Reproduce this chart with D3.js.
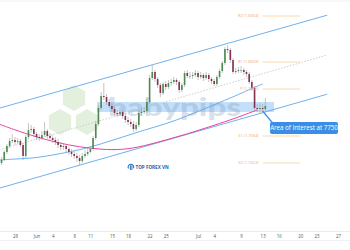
<!DOCTYPE html>
<html>
<head>
<meta charset="utf-8">
<script src="https://cdn.jsdelivr.net/npm/d3@7"></script>
<style>
  html, body { margin: 0; padding: 0; background: #fff; }
  svg { display: block; font-family: "Open Sans", "DejaVu Sans", sans-serif; }
</style>
</head>
<body>
<div class="chart"></div>
<script>
// candles, 12h bars from 25 May 12:00 -> [open, high, low, close]
const candleStart = "2018-05-25 12:00";
const candles = [
  [1.7422,1.7458,1.7410,1.7440],[1.7440,1.7500,1.7434,1.7488],[1.7488,1.7536,1.7476,1.7524],[1.7524,1.7572,1.7512,1.7554],
  [1.7554,1.7596,1.7542,1.7560],[1.7560,1.7578,1.7530,1.7548],[1.7548,1.7572,1.7536,1.7554],[1.7554,1.7566,1.7518,1.7530],
  [1.7530,1.7542,1.7440,1.7464],[1.7464,1.7590,1.7452,1.7578],[1.7578,1.7662,1.7566,1.7620],[1.7620,1.7650,1.7602,1.7626],
  [1.7626,1.7638,1.7578,1.7596],[1.7596,1.7608,1.7560,1.7578],[1.7578,1.7596,1.7554,1.7572],[1.7572,1.7614,1.7560,1.7590],
  [1.7590,1.7668,1.7578,1.7614],[1.7614,1.7626,1.7566,1.7584],[1.7584,1.7602,1.7554,1.7572],[1.7572,1.7590,1.7542,1.7560],
  [1.7560,1.7578,1.7530,1.7548],[1.7548,1.7566,1.7512,1.7530],[1.7530,1.7548,1.7500,1.7518],[1.7518,1.7542,1.7500,1.7524],
  [1.7524,1.7536,1.7488,1.7506],[1.7506,1.7518,1.7470,1.7488],[1.7488,1.7506,1.7458,1.7476],[1.7476,1.7494,1.7446,1.7464],
  [1.7464,1.7482,1.7428,1.7452],[1.7452,1.7470,1.7410,1.7434],[1.7434,1.7482,1.7422,1.7464],[1.7464,1.7500,1.7452,1.7476],
  [1.7476,1.7512,1.7464,1.7488],[1.7488,1.7524,1.7482,1.7506],[1.7506,1.7584,1.7494,1.7572],[1.7572,1.7674,1.7560,1.7656],
  [1.7656,1.7770,1.7644,1.7752],[1.7752,1.7848,1.7740,1.7824],[1.7824,1.7902,1.7800,1.7818],[1.7818,1.7836,1.7770,1.7788],
  [1.7788,1.7806,1.7752,1.7764],[1.7764,1.7782,1.7728,1.7746],[1.7746,1.7764,1.7704,1.7722],[1.7722,1.7740,1.7698,1.7716],
  [1.7716,1.7752,1.7704,1.7728],[1.7728,1.7740,1.7686,1.7704],[1.7704,1.7722,1.7662,1.7680],[1.7680,1.7698,1.7650,1.7668],
  [1.7668,1.7686,1.7638,1.7656],[1.7656,1.7674,1.7608,1.7626],[1.7626,1.7668,1.7614,1.7650],[1.7650,1.7740,1.7638,1.7722],
  [1.7722,1.7752,1.7704,1.7728],[1.7728,1.7758,1.7716,1.7734],[1.7734,1.7812,1.7722,1.7788],[1.7788,1.7950,1.7776,1.7932],
  [1.7932,1.8010,1.7920,1.7968],[1.7968,1.7980,1.7908,1.7926],[1.7926,1.7938,1.7872,1.7890],[1.7890,1.7902,1.7818,1.7842],
  [1.7842,1.7908,1.7830,1.7896],[1.7896,1.7914,1.7860,1.7878],[1.7878,1.7920,1.7866,1.7902],[1.7902,1.7926,1.7884,1.7908],
  [1.7908,1.7938,1.7896,1.7920],[1.7920,1.7932,1.7890,1.7908],[1.7908,1.7920,1.7842,1.7860],[1.7860,1.7902,1.7848,1.7890],
  [1.7890,1.7974,1.7878,1.7962],[1.7962,1.7980,1.7932,1.7944],[1.7944,1.7968,1.7926,1.7944],[1.7944,1.7968,1.7926,1.7950],
  [1.7950,1.7980,1.7938,1.7962],[1.7962,1.7974,1.7920,1.7938],[1.7938,1.7968,1.7926,1.7950],[1.7950,1.7962,1.7914,1.7932],
  [1.7932,1.7968,1.7920,1.7950],[1.7950,1.7962,1.7908,1.7926],[1.7926,1.7938,1.7896,1.7914],[1.7914,1.7926,1.7884,1.7896],
  [1.7896,1.7950,1.7884,1.7938],[1.7938,1.7986,1.7926,1.7974],[1.7974,1.8034,1.7962,1.8022],[1.8022,1.8118,1.8010,1.8106],
  [1.8106,1.8130,1.8082,1.8100],[1.8100,1.8112,1.8022,1.8040],[1.8040,1.8052,1.7956,1.7968],[1.7968,1.7992,1.7956,1.7974],
  [1.7974,1.7998,1.7962,1.7980],[1.7980,1.8004,1.7962,1.7980],[1.7980,1.7992,1.7950,1.7968],[1.7968,1.7980,1.7938,1.7956],
  [1.7956,1.7968,1.7896,1.7908],[1.7908,1.7920,1.7854,1.7872],[1.7872,1.7884,1.7740,1.7752],[1.7752,1.7776,1.7728,1.7746],
  [1.7746,1.7782,1.7722,1.7752],[1.7752,1.7776,1.7728,1.7746],[1.7746,1.7812,1.7734,1.7764]
];

// moving averages
const maDates = ["2018-05-25","2018-05-28","2018-06-01","2018-06-05","2018-06-09","2018-06-13","2018-06-17",
  "2018-06-21","2018-06-25","2018-06-29","2018-07-03","2018-07-07","2018-07-10","2018-07-12","2018-07-13"];
const maBlue = [1.7440,1.7446,1.7452,1.7476,1.7500,1.7536,1.7578,1.7620,1.7656,1.7704,1.7758,1.7812,1.7854,1.7884,1.7896];
const maPink = [1.7656,1.7620,1.7578,1.7542,1.7518,1.7503,1.7500,1.7524,1.7560,1.7596,1.7638,1.7680,1.7716,1.7740];

// trend channel (start / end)
const channelDates = ["2018-05-25","2018-07-25"];
const channelUpper = [1.7750, 1.8309];
const channelMid = [1.7500, 1.8070];
const channelLower = [1.7270, 1.7835];

// weekly pivots
const pivotDates = ["2018-07-13","2018-07-20"];
const pivotNames = ["R2","R1","P","S1","S2"];
const pivotValues = [1.8304, 1.8028, 1.7866, 1.7584, 1.7422];

// zone
const zoneDates = ["2018-06-12 06:00","2018-07-15 03:00"];
const zonePrices = [1.7728, 1.7788];
const noteDate = "2018-07-13";
const notePrice = 1.7734;
const noteText = "Area of Interest at 7750";

// x axis
const tickDates = ["2018-05-28","2018-06-01","2018-06-04","2018-06-08","2018-06-11","2018-06-15","2018-06-18",
  "2018-06-22","2018-06-25","2018-07-01","2018-07-04","2018-07-09","2018-07-13","2018-07-16","2018-07-20",
  "2018-07-23","2018-07-27"];
const tickLabels = ["28","Jun","4","8","11","15","18","22","25","Jul","4","9","13","16","20","23","27"];

const W = 350, H = 250;
const pd = s => d3.timeParse(s.length > 10 ? "%Y-%m-%d %H:%M" : "%Y-%m-%d")(s);

const x = d3.scaleTime()
  .domain([pd("2018-05-28"), pd("2018-07-27")])
  .range([15, 338]);
const y = d3.scaleLinear()
  .domain([1.7008, 1.84])
  .range([232, 0]);

const svg = d3.select(".chart").append("svg")
  .attr("width", W).attr("height", H)
  .attr("viewBox", "0 0 " + W + " " + H);

svg.append("rect").attr("width", W).attr("height", H).attr("fill", "#fff");

svg.append("clipPath").attr("id", "clip")
  .append("rect").attr("width", W).attr("height", 231);

const plot = svg.append("g").attr("clip-path", "url(#clip)");

// watermark logo (hexagons)
function hex(cx, cy, r) {
  const p = d3.range(6).map(k => {
    const a = Math.PI / 3 * k - Math.PI / 2;
    return [cx + r * Math.cos(a), cy + r * Math.sin(a)];
  });
  return "M" + p.join("L") + "Z";
}
[[74, 98], [60, 122], [87, 122]].forEach(c => {
  plot.append("path").attr("d", hex(c[0], c[1], 13.5))
    .attr("fill", "#e2f0dd").attr("stroke", "#fff").attr("stroke-width", 1);
});

// zone band
plot.append("rect")
  .attr("x", x(pd(zoneDates[0])))
  .attr("y", y(zonePrices[1]))
  .attr("width", x(pd(zoneDates[1])) - x(pd(zoneDates[0])))
  .attr("height", y(zonePrices[0]) - y(zonePrices[1]))
  .attr("fill", "#9ccaf5").attr("opacity", 0.6);

// watermark text
plot.append("text")
  .attr("x", 108).attr("y", 116)
  .attr("textLength", 133).attr("lengthAdjust", "spacingAndGlyphs")
  .attr("font-family", "Lato, 'Open Sans', sans-serif")
  .attr("font-weight", 900).attr("font-size", 25)
  .attr("fill", "#7d9cc0").attr("opacity", 0.3)
  .text("babypips");

// channel
const seg = d3.line().x(d => x(d[0])).y(d => y(d[1]));
[[channelUpper, "#5ea8ee", null], [channelLower, "#5ea8ee", null], [channelMid, "#c8c8c8", "1.5,1.5"]]
  .forEach(c => {
    plot.append("path")
      .attr("d", seg(channelDates.map((d, i) => [pd(d), c[0][i]])))
      .attr("fill", "none").attr("stroke", c[1]).attr("stroke-width", 0.9)
      .attr("stroke-dasharray", c[2]);
  });

// moving averages
const curve = d3.line().curve(d3.curveBasis).x(d => x(d[0])).y(d => y(d[1]));
plot.append("path")
  .attr("d", curve(maDates.map((d, i) => [pd(d), maBlue[i]])))
  .attr("fill", "none").attr("stroke", "#5ea8ee").attr("stroke-width", 0.9);
plot.append("path")
  .attr("d", curve(maPink.map((v, i) => [pd(maDates[i]), v])))
  .attr("fill", "none").attr("stroke", "#e8449a").attr("stroke-width", 1);

// candles
const t0 = pd(candleStart);
const cdate = i => new Date(t0.getTime() + i * 12 * 3600 * 1000);
const cg = plot.selectAll(".candle").data(candles).enter().append("g").attr("class", "candle");
cg.append("line")
  .attr("x1", (d, i) => x(cdate(i))).attr("x2", (d, i) => x(cdate(i)))
  .attr("y1", d => y(d[1])).attr("y2", d => y(d[2]))
  .attr("stroke", "#9c9c9c").attr("stroke-width", 0.6);
cg.append("rect")
  .attr("x", (d, i) => x(cdate(i)) - 0.8)
  .attr("width", 1.6)
  .attr("y", d => y(Math.max(d[0], d[3])))
  .attr("height", d => Math.max(0.6, Math.abs(y(d[0]) - y(d[3]))))
  .attr("fill", d => d[3] >= d[0] ? "#4c8a50" : "#86304f");

// pivots
const px0 = x(pd(pivotDates[0])), px1 = x(pd(pivotDates[1]));
pivotValues.forEach((v, i) => {
  plot.append("line")
    .attr("x1", px0).attr("x2", px1)
    .attr("y1", y(v)).attr("y2", y(v))
    .attr("stroke", "#fbd5a3").attr("stroke-width", 0.9);
  plot.append("text")
    .attr("x", px0 - 4).attr("y", y(v) + 1.4)
    .attr("text-anchor", "end").attr("font-size", 4)
    .attr("fill", "#f5a95a")
    .text(pivotNames[i] + " (" + v.toFixed(4) + ")");
});

// TOP FOREX VN logo
const lg = plot.append("g").attr("transform", "translate(131,167)");
lg.append("path").attr("d", "M-2.5,1.5 A2.8,2.8 0 1 1 2.5,1.2")
  .attr("fill", "none").attr("stroke", "#2d7fd0").attr("stroke-width", 1.2);
lg.append("path").attr("d", "M-0.6,-1.6 L-0.6,3 M0.9,-1.6 L0.9,3")
  .attr("stroke", "#1f5fa8").attr("stroke-width", 0.9);
plot.append("text").attr("x", 135.5).attr("y", 169)
  .attr("font-size", 4.6).attr("font-weight", 700).attr("fill", "#1f5fa8")
  .text("TOP FOREX VN");

// callout
const ax = x(pd(noteDate)), ay = y(notePrice);
plot.append("line").attr("x1", ax).attr("y1", ay).attr("x2", 273).attr("y2", 123.5)
  .attr("stroke", "#3a8ee6").attr("stroke-width", 1.2);
plot.append("rect").attr("x", 270).attr("y", 122).attr("width", 68).attr("height", 12)
  .attr("rx", 2).attr("fill", "#3a8ee6");
plot.append("text").attr("x", 304).attr("y", 130.3)
  .attr("text-anchor", "middle").attr("font-size", 6.2).attr("fill", "#fff")
  .text(noteText);

// axis
svg.append("line").attr("x1", 0).attr("x2", W).attr("y1", 231.5).attr("y2", 231.5)
  .attr("stroke", "#e3e6ec").attr("stroke-width", 0.8);
svg.append("line").attr("x1", 0).attr("x2", W).attr("y1", 240.5).attr("y2", 240.5)
  .attr("stroke", "#eceef2").attr("stroke-width", 0.8);
svg.append("line").attr("x1", 0).attr("x2", W).attr("y1", 1).attr("y2", 1)
  .attr("stroke", "#eef0f3").attr("stroke-width", 1);

const xAxis = d3.axisBottom(x)
  .tickValues(tickDates.map(pd))
  .tickFormat((d, i) => tickLabels[i])
  .tickSize(0).tickPadding(0);
const ax_g = svg.append("g").attr("transform", "translate(0,237.5)").call(xAxis);
ax_g.select(".domain").remove();
ax_g.selectAll("text").attr("font-size", 4.4).attr("fill", "#555")
  .attr("font-family", "'Open Sans', sans-serif").attr("dy", "0");
</script>
</body>
</html>
